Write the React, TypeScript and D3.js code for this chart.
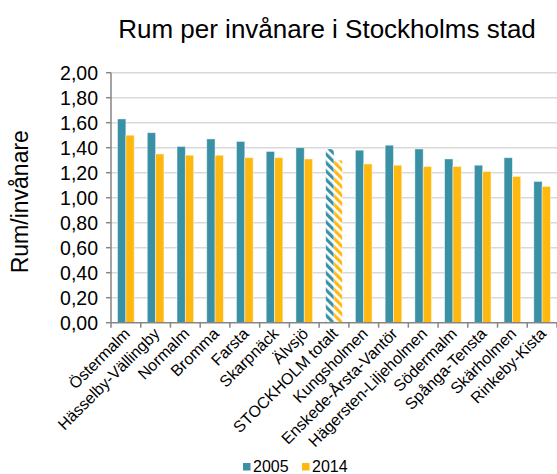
import React from "react";
import * as d3 from "d3";

// District names along the x axis
const categories: string[] = [
  "Östermalm",
  "Hässelby-Vällingby",
  "Normalm",
  "Bromma",
  "Farsta",
  "Skarpnäck",
  "Älvsjö",
  "STOCKHOLM totalt",
  "Kungsholmen",
  "Enskede-Årsta-Vantör",
  "Hägersten-Liljeholmen",
  "Södermalm",
  "Spånga-Tensta",
  "Skärholmen",
  "Rinkeby-Kista",
];

// Rooms per inhabitant, 2005
const values2005: number[] = [
  1.63, 1.52, 1.41, 1.47, 1.45, 1.37, 1.4, 1.39, 1.38, 1.42, 1.39, 1.31, 1.26, 1.32, 1.13,
];

// Rooms per inhabitant, 2014
const values2014: number[] = [
  1.5, 1.35, 1.34, 1.34, 1.32, 1.32, 1.31, 1.3, 1.27, 1.26, 1.25, 1.25, 1.21, 1.17, 1.09,
];

const seriesNames: string[] = ["2005", "2014"];
const yTicks: number[] = [0, 0.2, 0.4, 0.6, 0.8, 1.0, 1.2, 1.4, 1.6, 1.8, 2.0];
const totalCategory = "STOCKHOLM totalt";

const W = 557;
const H = 474;
const FONT = "'Liberation Sans', Arial, sans-serif";
const TEAL = "#3A91A6";
const YELLOW = "#FFB810";

export default function App() {
  const left = 111;
  const right = 557;
  const top = 72.7;
  const bottom = 322.7;

  const x = d3
    .scaleBand<string>()
    .domain(categories)
    .range([left, right])
    .paddingInner(0.44)
    .paddingOuter(0.22);
  const xs = d3.scaleBand<string>().domain(seriesNames).range([0, x.bandwidth()]);
  const y = d3.scaleLinear().domain([0, 2]).range([bottom, top]);
  const step = x.step();
  const fmt = (v: number) => v.toFixed(2).replace(".", ",");

  const series = [
    { name: "2005", values: values2005, color: TEAL, pattern: "hatch2005" },
    { name: "2014", values: values2014, color: YELLOW, pattern: "hatch2014" },
  ];

  return (
    <svg
      width={W}
      height={H}
      style={{ position: "fixed", left: 0, top: 0, background: "#fff" }}
      fontFamily={FONT}
    >
      <defs>
        {series.map((s) => (
          <pattern
            key={s.pattern}
            id={s.pattern}
            patternUnits="userSpaceOnUse"
            width={6}
            height={6}
            patternTransform="rotate(-45)"
          >
            <rect width={6} height={6} fill="#fff" />
            <rect width={3.2} height={6} fill={s.color} />
          </pattern>
        ))}
      </defs>

      <text x={327} y={38} textAnchor="middle" fontSize={26} fill="#000">
        Rum per invånare i Stockholms stad
      </text>

      {/* gridlines */}
      {yTicks.slice(1).map((t) => (
        <line key={t} x1={left} x2={right} y1={y(t)} y2={y(t)} stroke="#D9D9D9" strokeWidth={1.5} />
      ))}

      {/* bars */}
      {series.map((s) =>
        categories.map((c, i) => {
          const bx = (x(c) as number) + (xs(s.name) as number);
          const isTotal = c === totalCategory;
          return (
            <rect
              key={s.name + c}
              x={bx}
              y={y(s.values[i])}
              width={xs.bandwidth()}
              height={y(0) - y(s.values[i])}
              fill={isTotal ? `url(#${s.pattern})` : s.color}
              stroke="rgba(255,255,255,0.55)"
              strokeWidth={0.8}
            />
          );
        })
      )}

      {/* y axis */}
      <line x1={left} x2={left} y1={top} y2={bottom} stroke="#868686" strokeWidth={1.5} />
      {yTicks.map((t) => (
        <g key={t}>
          <line x1={left - 5} x2={left} y1={y(t)} y2={y(t)} stroke="#868686" strokeWidth={1.5} />
          <text x={98} y={y(t)} dy="0.36em" textAnchor="end" fontSize={19.5} fill="#000">
            {fmt(t)}
          </text>
        </g>
      ))}
      <text
        transform={`translate(28,${(top + bottom) / 2 + 4}) rotate(-90)`}
        textAnchor="middle"
        fontSize={23}
        fill="#000"
      >
        Rum/invånare
      </text>

      {/* x axis */}
      <line x1={left} x2={right} y1={bottom} y2={bottom} stroke="#868686" strokeWidth={1.5} />
      {d3.range(categories.length + 1).map((i) => (
        <line
          key={i}
          x1={left + i * step}
          x2={left + i * step}
          y1={bottom}
          y2={bottom + 5}
          stroke="#868686"
          strokeWidth={1.5}
        />
      ))}
      {categories.map((c) => (
        <text
          key={c}
          transform={`translate(${(x(c) as number) + x.bandwidth() / 2 + 5},${bottom + 12}) rotate(-45)`}
          textAnchor="end"
          fontSize={16}
          fill="#000"
        >
          {c}
        </text>
      ))}

      {/* legend */}
      {series.map((s, i) => {
        const lx = 243 + i * 59;
        return (
          <g key={s.name}>
            <rect x={lx} y={463} width={7.5} height={7.5} fill={s.color} />
            <text x={lx + 10} y={472} fontSize={16} fill="#000">
              {s.name}
            </text>
          </g>
        );
      })}
    </svg>
  );
}
